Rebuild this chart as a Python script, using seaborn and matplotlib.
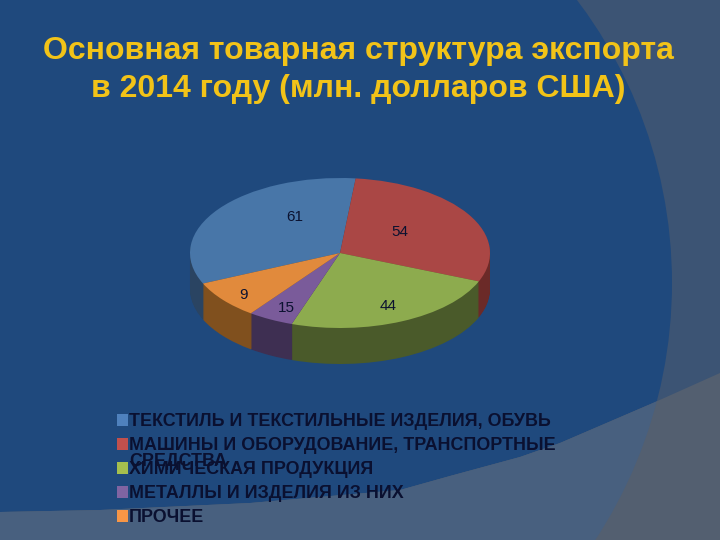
import matplotlib
matplotlib.use("Agg")
import matplotlib.pyplot as plt
from matplotlib.patches import Circle, Rectangle
import numpy as np
import seaborn as sns

sns.set_theme(style="white")
plt.rcParams['font.family'] = ['Liberation Sans', 'DejaVu Sans']

categories = ["ТЕКСТИЛЬ И ТЕКСТИЛЬНЫЕ ИЗДЕЛИЯ, ОБУВЬ",
              "МАШИНЫ И ОБОРУДОВАНИЕ, ТРАНСПОРТНЫЕ\nСРЕДСТВА",
              "ХИМИЧЕСКАЯ ПРОДУКЦИЯ",
              "МЕТАЛЛЫ И ИЗДЕЛИЯ ИЗ НИХ",
              "ПРОЧЕЕ"]
# Printed labels, and the slice sizes as drawn (purple and orange are drawn the other way round)
values = [61, 54, 44, 15, 9]
slice_sizes = [61, 54, 44, 9, 15]
top_colors = sns.color_palette(["#4876A8", "#AA4745", "#8DAB4E", "#7A5B9A", "#E18A3C"])
side_colors = sns.color_palette(["#2A4462", "#6B2A28", "#4A5A2A", "#3E2F52", "#80501E"])
legend_colors = sns.color_palette(["#4F81BD", "#C0504D", "#A5BF4E", "#8064A2", "#F79646"])
label_xy = [(295, 217), (400, 232), (388, 306), (286, 308), (244, 295)]
legend_y = [420, 444, 468, 492, 516]
title_lines = ["Основная товарная структура экспорта",
               "в 2014 году (млн. долларов США)"]
curve_x = [0, 100, 250, 400, 450, 520, 560, 653, 720]
curve_y = [512, 510, 503, 490, 476, 457, 443, 403, 373]

W, H = 720, 540
fig = plt.figure(figsize=(7.2, 5.4), dpi=100, facecolor="#3C5474")

# Background in pixel coordinates
bg = fig.add_axes([0, 0, 1, 1])
bg.set_xlim(0, W)
bg.set_ylim(H, 0)
bg.axis("off")
bg.add_patch(Rectangle((0, 0), W, H, color="#3C5474", lw=0))
bg.add_patch(Circle((203, 283), 469, color="#1F497D", lw=0))
bg.fill_between(curve_x, curve_y, H, color="#535F70", lw=0)
inner = bg.fill_between(curve_x, curve_y, H, color="#48607F", lw=0)
inner.set_clip_path(Circle((203, 283), 469, transform=bg.transData))

# Pie axes: the ellipse comes from the unequal axis scales
cx, cy, rx, ry, depth = 340, 253, 150, 75, 36
left, right = cx - rx - 5, cx + rx + 5
top, bottom = cy - ry - 5, cy + ry + depth + 5
ax = fig.add_axes([left / W, 1 - bottom / H, (right - left) / W, (bottom - top) / H])
ax.patch.set_alpha(0)
start = 204
for k in range(depth, 0, -1):
    ax.pie(slice_sizes, colors=side_colors, startangle=start, counterclock=False,
           center=(0, -k / ry), radius=1, wedgeprops={"linewidth": 0})
ax.pie(slice_sizes, colors=top_colors, startangle=start, counterclock=False,
       center=(0, 0), radius=1, wedgeprops={"linewidth": 0})
ax.set_aspect("auto")
ax.set_xlim((left - cx) / rx, (right - cx) / rx)
ax.set_ylim((cy - bottom) / ry, (cy - top) / ry)
ax.axis("off")

# Value labels
txt = fig.add_axes([0, 0, 1, 1])
txt.set_xlim(0, W)
txt.set_ylim(H, 0)
txt.axis("off")
txt.patch.set_alpha(0)
for v, (x, y) in zip(values, label_xy):
    txt.text(x, y, str(v), ha="center", va="center", fontsize=11, color="#0B1230")

# Title
for line, y in zip(title_lines, [51, 89]):
    txt.text(358, y, line, ha="center", va="center", fontsize=23, fontweight="bold",
             color="#F2C318")

# Legend, with the long label wrapping into the next entry as in the reference
for label, col, y in zip(categories, legend_colors, legend_y):
    txt.add_patch(Rectangle((117, y - 6), 11, 12, color=col, lw=0))
    parts = label.split("\n")
    txt.text(129, y + 1.5, parts[0], ha="left", va="center", fontsize=12.9, fontweight="bold",
             color="#0A1030")
    if len(parts) > 1:
        txt.text(129, y + 17.5, parts[1], ha="left", va="center", fontsize=12.9,
                 fontweight="bold", color="#0A1030")

fig.savefig("out.png", dpi=100, facecolor=fig.get_facecolor())
